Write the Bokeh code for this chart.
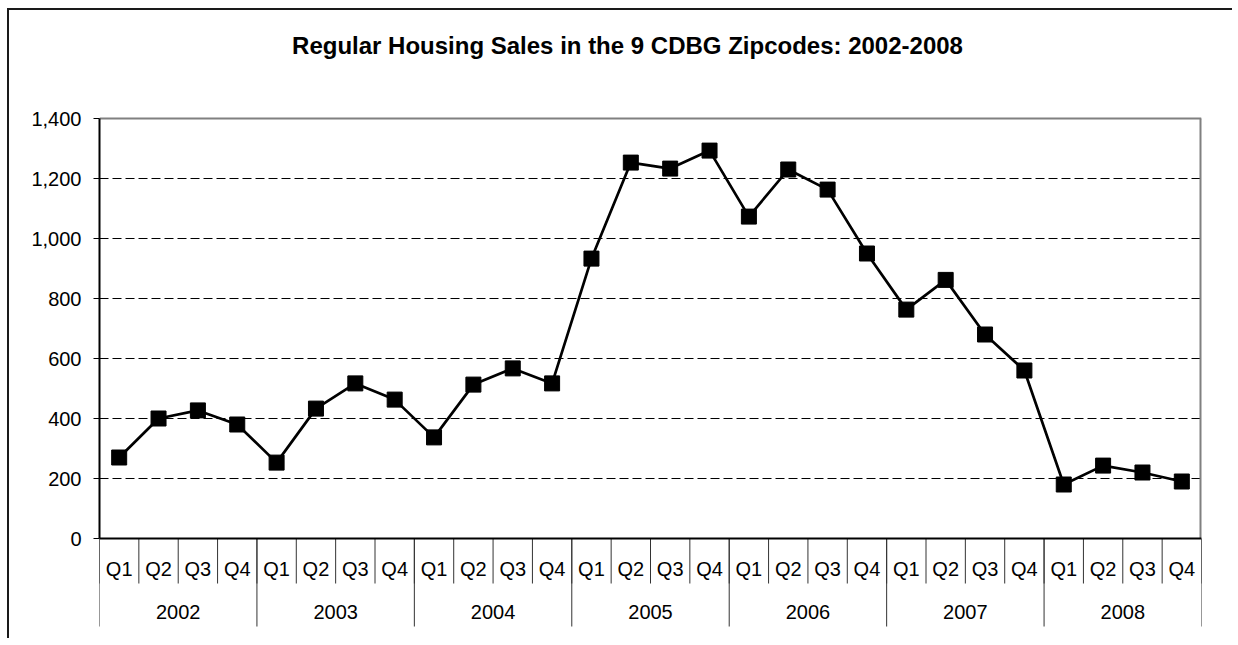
from bokeh.plotting import figure
from bokeh.models import (FactorRange, Range1d, FixedTicker, NumeralTickFormatter,
                          ColumnDataSource)
from bokeh.core.properties import value
from bokeh.embed import file_html
from bokeh.resources import INLINE

# ---------------- data ----------------
years = ["2002", "2003", "2004", "2005", "2006", "2007", "2008"]
quarters = ["Q1", "Q2", "Q3", "Q4"]
sales = [270, 400, 427, 380,
         253, 433, 517, 463,
         337, 513, 567, 517,
         933, 1253, 1233, 1293,
         1073, 1230, 1163, 950,
         763, 862, 680, 560,
         180, 243, 220, 190]
y_ticks = [0, 200, 400, 600, 800, 1000, 1200, 1400]
title_text = "Regular Housing Sales in the 9 CDBG Zipcodes: 2002-2008"

factors = [(yr, q) for yr in years for q in quarters]
n = len(factors)
y_max = y_ticks[-1]

FONT = value("Liberation Sans")

p = figure(
    width=1225, height=630,
    x_range=FactorRange(factors=factors, factor_padding=0, group_padding=0,
                        subgroup_padding=0, range_padding=0),
    y_range=Range1d(-293.33, 1760),
    output_backend="svg", toolbar_location=None,
    x_axis_type=None, title_location=None,
    min_border_left=90, min_border_right=33, min_border_top=0, min_border_bottom=14,
    outline_line_color=None, background_fill_color="white", border_fill_color="white",
)
p.styles = {"border-left": "2px solid #1a1a1a", "border-top": "2px solid #1a1a1a",
            "margin-left": "7px", "margin-top": "8px"}

# y axis
ya = p.yaxis[0]
ya.bounds = (0, y_max)
ya.ticker = FixedTicker(ticks=y_ticks)
ya.formatter = NumeralTickFormatter(format="0,0")
ya.major_tick_out = 6
ya.major_tick_in = 0
ya.minor_tick_line_color = None
ya.axis_line_width = 2
ya.axis_line_color = "black"
ya.major_tick_line_color = "black"
ya.major_tick_line_width = 1
ya.major_label_standoff = 12
ya.major_label_text_font = "Liberation Sans"
ya.major_label_text_font_size = "20px"
ya.major_label_text_color = "black"

# grid
p.xgrid.visible = False
p.ygrid.ticker = FixedTicker(ticks=y_ticks[1:-1])
p.ygrid.grid_line_color = "black"
p.ygrid.grid_line_dash = "9 4"
p.ygrid.grid_line_width = 1

# plot-area border (top and right), x axis line at zero
p.segment(x0=[0], y0=[y_max], x1=[n], y1=[y_max], line_color="#808080", line_width=2)
p.segment(x0=[n], y0=[0], x1=[n], y1=[y_max], line_color="#808080", line_width=4)

# category table separators
qsep = list(range(0, n + 1))
p.segment(x0=qsep, y0=[0] * len(qsep), x1=qsep, y1=[-150] * len(qsep),
          line_color="#333333", line_width=1)
ysep = list(range(0, n + 1, len(quarters)))
p.segment(x0=ysep, y0=[0] * len(ysep), x1=ysep, y1=[-300] * len(ysep),
          line_color="#333333", line_width=1)
p.segment(x0=[0], y0=[0], x1=[n], y1=[0], line_color="black", line_width=2)

# quarter and year labels
qsrc = ColumnDataSource(dict(x=factors, t=[f[1] for f in factors]))
p.text(x="x", y=-103, text="t", source=qsrc, text_font=FONT, text_font_size="20px",
       text_align="center", text_baseline="middle", text_color="black")
ysrc = ColumnDataSource(dict(x=years, t=years))
p.text(x="x", y=-245, text="t", source=ysrc, text_font=FONT, text_font_size="20px",
       text_align="center", text_baseline="middle", text_color="black")

# title
p.text(x=[n / 2], y=[y_max], text=[title_text], x_offset=-23, y_offset=-73,
       text_font=FONT, text_font_size="24px", text_font_style="bold",
       text_align="center", text_baseline="alphabetic", text_color="black")

# series
src = ColumnDataSource(dict(x=factors, y=sales))
p.line(x="x", y="y", source=src, line_color="black", line_width=2.7)
p.scatter(x="x", y="y", source=src, marker="square", size=15,
          fill_color="black", line_color="black")

open("out.html", "w").write(file_html(p, INLINE))
